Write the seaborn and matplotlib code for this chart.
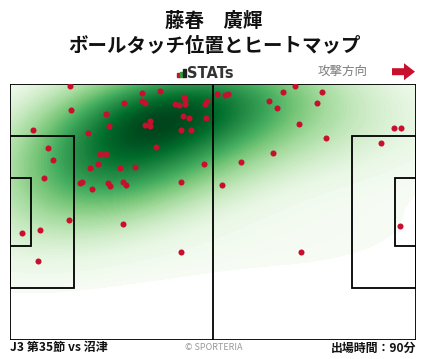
import matplotlib
matplotlib.use("Agg")
import matplotlib.pyplot as plt
import matplotlib.patches as mpatches
import seaborn as sns

# Ball touch positions (metres, x: own goal -> attacking goal, y: from top touchline)
touch_x = [15.6, 15.9, 6.0, 20.3, 24.7, 25.7, 29.6, 34.2, 38.9, 34.2,
           35.0, 36.3, 35.0, 36.3, 42.7, 43.8, 45.1, 45.3, 45.3, 44.8,
           46.2, 44.3, 46.9, 50.8, 50.5, 51.0, 37.8, 9.7, 11.2, 8.9,
           23.4, 24.9, 22.8, 20.8, 28.5, 32.2, 18.7, 18.2, 21.3, 25.4,
           25.9, 29.1, 30.1, 44.3, 50.3, 15.3, 7.8, 3.2, 7.3, 29.1,
           44.3, 53.6, 55.7, 56.5, 67.1, 70.7, 73.8, 80.8, 79.5, 69.1,
           74.8, 81.8, 68.1, 59.8, 54.9, 99.3, 101.2, 96.0, 100.9, 75.3]
touch_y = [0.6, 7.0, 12.3, 13.1, 8.1, 11.2, 5.1, 2.5, 1.9, 4.6,
           5.1, 9.7, 11.0, 11.2, 5.4, 5.7, 3.5, 4.3, 5.2, 8.6,
           8.9, 12.3, 12.3, 9.1, 5.4, 4.6, 16.8, 17.1, 20.3, 25.1,
           18.7, 18.7, 21.3, 22.4, 22.4, 22.1, 25.9, 26.4, 28.0, 26.4,
           27.2, 26.1, 26.7, 26.1, 21.3, 36.0, 38.9, 39.7, 46.9, 37.3,
           44.7, 2.7, 3.0, 2.7, 4.6, 2.1, 0.6, 2.2, 5.1, 6.5,
           10.5, 14.4, 18.4, 20.8, 26.7, 11.8, 11.8, 15.8, 37.6, 44.5]

player_name = "藤春　廣輝"
chart_title = "ボールタッチ位置とヒートマップ"
match_label = "J3 第35節 vs 沼津"
minutes_label = "出場時間：90分"

PITCH_L, PITCH_W = 105, 68
RED = "#c8102e"

sns.set_theme(style="white")
plt.rcParams['font.family'] = ['Noto Sans CJK JP', 'DejaVu Sans']


def draw_pitch(ax, lw=1.3):
    """Pitch outline, halfway line, penalty and goal areas."""
    kw = dict(fill=False, edgecolor='black', linewidth=lw, zorder=3)
    ax.add_patch(mpatches.Rectangle((0, 0), PITCH_L, PITCH_W, **kw))
    ax.plot([PITCH_L / 2, PITCH_L / 2], [0, PITCH_W], color='black', linewidth=lw, zorder=3)
    box_w, box_d = 40.32, 16.5
    goal_w, goal_d = 18.32, 5.5
    ax.add_patch(mpatches.Rectangle((0, (PITCH_W - box_w) / 2), box_d, box_w, **kw))
    ax.add_patch(mpatches.Rectangle((PITCH_L - box_d, (PITCH_W - box_w) / 2), box_d, box_w, **kw))
    ax.add_patch(mpatches.Rectangle((0, (PITCH_W - goal_w) / 2), goal_d, goal_w, **kw))
    ax.add_patch(mpatches.Rectangle((PITCH_L - goal_d, (PITCH_W - goal_w) / 2), goal_d, goal_w, **kw))


fig = plt.figure(figsize=(4.28, 3.59), dpi=100)
fig.patch.set_facecolor('white')
ax = fig.add_axes([10 / 428, 19 / 359, 406 / 428, 256 / 359])

# Heatmap
sns.kdeplot(x=touch_x, y=touch_y, fill=True, cmap="Greens", levels=100, thresh=0.02,
            bw_adjust=1.6, clip=((0, PITCH_L), (0, PITCH_W)), ax=ax, zorder=1)
# Touch points
sns.scatterplot(x=touch_x, y=touch_y, color=RED, s=19, linewidth=0, ax=ax, zorder=4)

draw_pitch(ax)
ax.set_xlim(0, PITCH_L)
ax.set_ylim(PITCH_W, 0)
ax.axis('off')

# Titles
fig.text(0.5, 1 - 21 / 359, player_name, ha='center', va='center', fontsize=14, fontweight='bold', color='#111111')
fig.text(0.5, 1 - 46 / 359, chart_title, ha='center', va='center', fontsize=14, fontweight='bold', color='#111111')

# STATs logo
for x0, h, c in [(177, 4, RED), (180, 5.5, '#2e9e3a'), (183, 8, '#222222')]:
    fig.add_artist(mpatches.Rectangle((x0 / 428, (359 - 77) / 359), 2.5 / 428, h / 359,
                                      transform=fig.transFigure, color=c))
fig.text(187 / 428, 1 - 73 / 359, "STATs", ha='left', va='center', fontsize=10.5,
         fontweight='bold', color='#333333', family='DejaVu Sans')

# Attack direction
fig.text(368 / 428, 1 - 71 / 359, "攻撃方向", ha='right', va='center', fontsize=9, color='#7c7c7c')
fig.add_artist(mpatches.FancyArrow(392 / 428, 1 - 71.7 / 359, 23 / 428, 0, width=7 / 359,
                                   head_width=17 / 359, head_length=11 / 428,
                                   length_includes_head=True, transform=fig.transFigure,
                                   color=RED, linewidth=0))

# Footer
fig.text(10 / 428, 1 - 348 / 359, match_label, ha='left', va='center', fontsize=8.7, fontweight='bold', color='#111111')
fig.text(0.5, 1 - 348 / 359, "© SPORTERIA", ha='center', va='center', fontsize=6.5, color='#999999')
fig.text(416 / 428, 1 - 348 / 359, minutes_label, ha='right', va='center', fontsize=8.6, fontweight='bold', color='#111111')

plt.savefig("out.png", dpi=100)
